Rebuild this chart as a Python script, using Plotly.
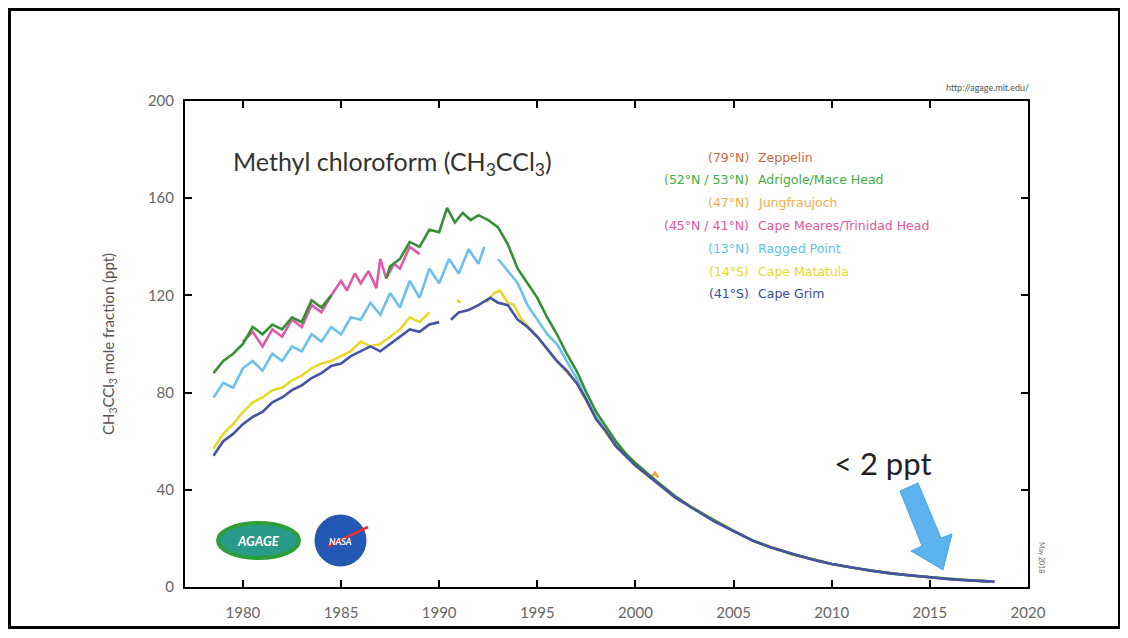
import plotly.graph_objects as go

# --- data (ppt) ---
mace_years = [1978.5, 1979.0, 1979.5, 1980.0, 1980.5, 1981.0, 1981.5, 1982.0, 1982.5, 1983.0,
              1983.5, 1984.0, 1984.5, 1985.0, 1987.3, 1987.5, 1988.0, 1988.5, 1989.0, 1989.5,
              1990.0, 1990.4, 1990.8, 1991.2, 1991.6, 1992.0, 1992.5, 1993.0, 1993.5, 1994.0,
              1994.5, 1995.0, 1995.5, 1996.0, 1996.5, 1997.0, 1997.5, 1998.0, 1998.5, 1999.0,
              1999.5, 2000.0, 2001.0, 2002.0, 2003.0, 2004.0, 2005.0, 2006.0, 2007.0, 2008.0,
              2009.0, 2010.0, 2011.0, 2012.0, 2013.0, 2014.0, 2015.0, 2016.0, 2017.0, 2018.0]
mace_ppt = [88, 93, 96, 100, 107, 104, 108, 106, 111, 109,
            118, 115, 120, None, 127, 132, 135, 142, 140, 147,
            146, 156, 150, 154, 151, 153, 151, 148, 141, 131,
            125, 119, 111, 104, 96, 89, 80, 72, 66, 60,
            55, 51, 44, 37.5, 32, 27.5, 23, 19, 16, 13.5,
            11.5, 9.5, 8, 6.7, 5.6, 4.7, 4, 3.3, 2.8, 2.3]

meares_years = [1980.0, 1980.5, 1981.0, 1981.5, 1982.0, 1982.5, 1983.0, 1983.5, 1984.0, 1984.5,
                1985.0, 1985.3, 1985.7, 1986.0, 1986.4, 1986.8, 1987.0, 1987.3, 1987.7, 1988.0,
                1988.5, 1989.0]
meares_ppt = [101, 105, 99, 106, 103, 110, 107, 116, 113, 120,
              126, 122, 129, 125, 130, 123, 135, 127, 133, 131,
              140, 137]

ragged_years = [1978.5, 1979.0, 1979.5, 1980.0, 1980.5, 1981.0, 1981.5, 1982.0, 1982.5, 1983.0,
                1983.5, 1984.0, 1984.5, 1985.0, 1985.5, 1986.0, 1986.5, 1987.0, 1987.5, 1988.0,
                1988.5, 1989.0, 1989.5, 1990.0, 1990.5, 1991.0, 1991.5, 1992.0, 1992.3, 1992.6,
                1993.0, 1993.5, 1994.0, 1994.5, 1995.0, 1995.5, 1996.0, 1996.5, 1997.0, 1997.5,
                1998.0, 1998.5, 1999.0, 1999.5, 2000.0, 2002.0, 2004.0, 2006.0, 2008.0, 2010.0,
                2012.0, 2014.0, 2016.0, 2018.0]
ragged_ppt = [78, 84, 82, 90, 93, 89, 96, 93, 99, 97,
              104, 101, 107, 104, 111, 110, 117, 112, 121, 115,
              126, 119, 131, 125, 135, 129, 139, 133, 140, None,
              135, 130, 125, 116, 110, 104, 100, 93, 86, 77,
              70, 64, 59, 54, 50, 37, 27.5, 19, 13.5, 9.5,
              6.7, 4.7, 3.3, 2.3]

matatula_years = [1978.5, 1979.0, 1979.5, 1980.0, 1980.5, 1981.0, 1981.5, 1982.0, 1982.5, 1983.0,
                  1983.5, 1984.0, 1984.5, 1985.0, 1985.5, 1986.0, 1986.5, 1987.0, 1987.5, 1988.0,
                  1988.5, 1989.0, 1989.5, 1990.0, 1990.9, 1991.1, 1991.5, 1992.4, 1992.8, 1993.1,
                  1993.5, 1993.8, 1994.2, 1995.0, 1996.0, 1997.0, 1998.0, 1999.0, 2000.0, 2002.0,
                  2004.0, 2006.0, 2008.0, 2010.0, 2012.0, 2014.0, 2016.0, 2018.0]
matatula_ppt = [57, 63, 67, 72, 76, 78, 81, 82, 85, 87,
                90, 92, 93, 95, 97, 101, 99, 100, 103, 106,
                111, 109, 113, None, 118, 117, None, 117, 121, 122,
                117, 116, 110, 103, 93, 84, 69, 58, 50, 37,
                27.5, 19, 13.5, 9.5, 6.7, 4.7, 3.3, 2.3]

jungfrau_years = [2000.85, 2001.0, 2001.15]
jungfrau_ppt = [45.5, 47, 45]

grim_years = [1978.5, 1979.0, 1979.5, 1980.0, 1980.5, 1981.0, 1981.5, 1982.0, 1982.5, 1983.0,
              1983.5, 1984.0, 1984.5, 1985.0, 1985.5, 1986.0, 1986.5, 1987.0, 1987.5, 1988.0,
              1988.5, 1989.0, 1989.5, 1990.0, 1990.2, 1990.6, 1991.0, 1991.5, 1992.0, 1992.6,
              1993.0, 1993.5, 1994.0, 1994.5, 1995.0, 1995.5, 1996.0, 1996.5, 1997.0, 1997.5,
              1998.0, 1998.5, 1999.0, 1999.5, 2000.0, 2001.0, 2002.0, 2003.0, 2004.0, 2005.0,
              2006.0, 2007.0, 2008.0, 2009.0, 2010.0, 2011.0, 2012.0, 2013.0, 2014.0, 2015.0,
              2016.0, 2017.0, 2018.3]
grim_ppt = [54, 60, 63, 67, 70, 72, 76, 78, 81, 83,
            86, 88, 91, 92, 95, 97, 99, 97, 100, 103,
            106, 105, 108, 109, None, 110, 113, 114, 116, 119,
            117, 116, 110, 107, 103, 98, 93, 89, 84, 77,
            69, 64, 58, 54, 50, 43.5, 37, 32, 27, 23,
            19, 16, 13.5, 11.3, 9.5, 8, 6.7, 5.6, 4.7, 3.9,
            3.2, 2.7, 2.2]

stations = ["Zeppelin", "Adrigole/Mace Head", "Jungfraujoch", "Cape Meares/Trinidad Head",
            "Ragged Point", "Cape Matatula", "Cape Grim"]
latitudes = ["(79°N)", "(52°N / 53°N)", "(47°N)", "(45°N / 41°N)", "(13°N)", "(14°S)", "(41°S)"]
label_colors = ["#c86a44", "#3fae3f", "#f3ad45", "#e0579e", "#5cc2f0", "#e6d72a", "#3c4a9c"]

FONT = "Lato, 'Open Sans', sans-serif"
WIDE = "'DejaVu Sans', sans-serif"

# figure sits at (8, 8) in the page; plot area on screen is x 185..1028, y 101..587
W, H = 1112, 621
L, R, T, B = 177, 92, 93, 42
PW, PH = W - L - R, H - T - B


def px(sx):
    # screen x -> paper x
    return (sx - 8 - L) / PW


def py(sy):
    # screen y -> paper y
    return (H - B - (sy - 8)) / PH


fig = go.Figure()


def add_line(xs, ys, color, width=2.6):
    fig.add_trace(go.Scatter(x=xs, y=ys, mode="lines", line=dict(color=color, width=width),
                             connectgaps=False, hoverinfo="skip"))


add_line(ragged_years, ragged_ppt, "#6cc0ee")
add_line(matatula_years, matatula_ppt, "#e4da2c")
add_line(jungfrau_years, jungfrau_ppt, "#f3a540")
add_line(meares_years, meares_ppt, "#de5aa6")
add_line(mace_years, mace_ppt, "#359035")
add_line(grim_years, grim_ppt, "#4652a2")

annotations = []
# legend written as coloured text
for i, (lat, name, col) in enumerate(zip(latitudes, stations, label_colors)):
    yp = py(157 + i * 22.8)
    annotations.append(dict(x=px(751), y=yp, xref="paper", yref="paper", text=lat,
                            showarrow=False, xanchor="right", yanchor="middle",
                            font=dict(family=WIDE, size=12.5, color=col)))
    annotations.append(dict(x=px(756), y=yp, xref="paper", yref="paper", text=name,
                            showarrow=False, xanchor="left", yanchor="middle",
                            font=dict(family=WIDE, size=12.5, color=col)))

annotations += [
    dict(x=px(231), y=py(163), xref="paper", yref="paper",
         text="Methyl chloroform (CH<sub>3</sub>CCl<sub>3</sub>)", showarrow=False,
         xanchor="left", yanchor="middle", font=dict(family=FONT, size=25, color="#333333")),
    dict(x=px(1031), y=py(87), xref="paper", yref="paper", text="http://agage.mit.edu/",
         showarrow=False, xanchor="right", yanchor="middle",
         font=dict(family=FONT, size=9, color="#555555")),
    dict(x=px(1042), y=py(557), xref="paper", yref="paper", text="May 2018",
         showarrow=False, textangle=90, xanchor="center", yanchor="middle",
         font=dict(family=FONT, size=7, color="#666666")),
    dict(x=px(883), y=py(463), xref="paper", yref="paper", text="< 2 ppt",
         showarrow=False, xanchor="center", yanchor="middle",
         font=dict(family=FONT, size=31, color="#222222")),
    # logo stand-ins
    dict(x=px(258), y=py(541), xref="paper", yref="paper",
         text="<b><i>AGAGE</i></b>", showarrow=False, xanchor="center", yanchor="middle",
         font=dict(family=FONT, size=13, color="white")),
    dict(x=px(340), y=py(541), xref="paper", yref="paper",
         text="<b><i>NASA</i></b>", showarrow=False, xanchor="center", yanchor="middle",
         font=dict(family=FONT, size=9, color="white")),
]

# block arrow (screen pixel outline)
arrow_pts = [(900, 491), (922, 546), (911, 551), (943, 570), (952, 534), (941, 538), (918, 483)]
arrow_path = "M " + " L ".join(f"{px(a):.5f},{py(b):.5f}" for a, b in arrow_pts) + " Z"

shapes = [
    # slide frame (figure edge)
    dict(type="rect", xref="paper", yref="paper",
         x0=px(9.5), x1=px(1119.5), y0=py(627.5), y1=py(9.5),
         line=dict(color="black", width=3), fillcolor="rgba(0,0,0,0)", layer="below"),
    dict(type="path", xref="paper", yref="paper", path=arrow_path,
         fillcolor="#5bb2ec", line=dict(color="#4fa6e2", width=1)),
    # AGAGE logo
    dict(type="circle", xref="paper", yref="paper",
         x0=px(218), x1=px(299), y0=py(558), y1=py(523),
         line=dict(color="#2e9e3a", width=4), fillcolor="#2a9a8a"),
    # NASA logo
    dict(type="circle", xref="paper", yref="paper",
         x0=px(315), x1=px(366), y0=py(566), y1=py(515),
         line=dict(color="#1e4fa8", width=1), fillcolor="#2358b4"),
    dict(type="line", xref="paper", yref="paper",
         x0=px(328), x1=px(368), y0=py(546), y1=py(527),
         line=dict(color="#e0303a", width=3)),
]

axis_common = dict(showline=True, linecolor="black", linewidth=2, mirror="ticks",
                   ticks="inside", ticklen=7, tickwidth=2, tickcolor="black",
                   showgrid=False, zeroline=False, automargin=False,
                   tickfont=dict(family=FONT, size=15, color="#666666"))

fig.update_layout(
    width=W, height=H,
    margin=dict(l=L, r=R, t=T, b=B),
    paper_bgcolor="white", plot_bgcolor="white",
    showlegend=False,
    xaxis=dict(range=[1977.05, 2020], tickmode="array",
               tickvals=[1980, 1985, 1990, 1995, 2000, 2005, 2010, 2015, 2020],
               ticklabelstandoff=11, **axis_common),
    yaxis=dict(range=[0, 200], tickmode="array", tickvals=[0, 40, 80, 120, 160, 200],
               ticklabelstandoff=6,
               title=dict(text="CH<sub>3</sub>CCl<sub>3</sub> mole fraction (ppt)",
                          font=dict(family=FONT, size=15, color="#555555"), standoff=30),
               **axis_common),
    annotations=annotations,
    shapes=shapes,
)

fig.write_html("out.html")
